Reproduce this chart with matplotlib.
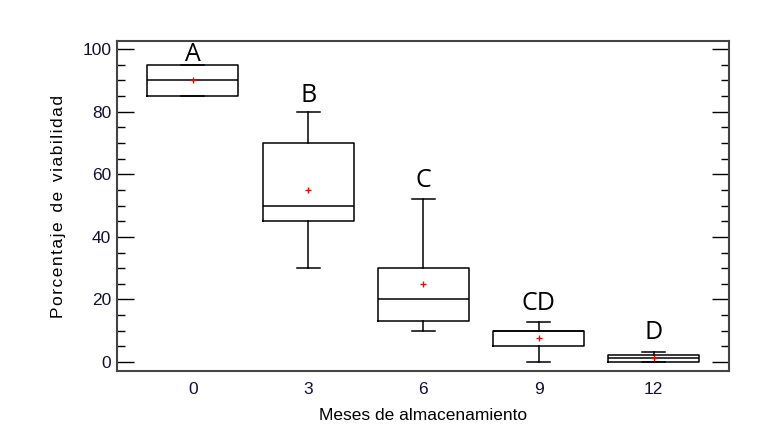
import matplotlib
matplotlib.use("Agg")
import matplotlib.pyplot as plt
from matplotlib.ticker import MultipleLocator

months = ["0", "3", "6", "9", "12"]
whislo = [85, 30, 10, 0, 0]
q1 = [85, 45, 13, 5, 0]
median = [90, 50, 20, 10, 1.2]
q3 = [95, 70, 30, 10, 2.2]
whishi = [95, 80, 52, 12.7, 3.1]
means = [90, 55, 25, 7.6, 1.3]
letters = ["A", "B", "C", "CD", "D"]
letter_y = [94.2, 81.2, 54, 14.7, 5.6]

fig = plt.figure(figsize=(7.59, 4.44), dpi=100)
ax = fig.add_axes([0.154, 0.164, 0.806, 0.744])

stats = []
for i in range(len(months)):
    stats.append(dict(whislo=whislo[i], q1=q1[i], med=median[i], q3=q3[i],
                      whishi=whishi[i], mean=means[i], fliers=[], label=months[i]))
pos = list(range(len(months)))
ax.bxp(stats, positions=pos, widths=0.79, showmeans=True, showfliers=False,
       boxprops=dict(color="black", linewidth=1.1),
       medianprops=dict(color="black", linewidth=1.1),
       whiskerprops=dict(color="black", linewidth=1.1),
       capprops=dict(color="black", linewidth=1.1),
       capwidths=0.2,
       meanprops=dict(marker="+", markeredgecolor="red", markersize=5, markeredgewidth=1))

for i, (l, y) in enumerate(zip(letters, letter_y)):
    ax.text(pos[i], y, l, ha="center", va="bottom", fontsize=18, family="Open Sans", color="black")

ax.set_xlim(-0.66, 4.65)
ax.set_ylim(-2.9, 102.6)
ax.yaxis.set_major_locator(MultipleLocator(20))
ax.yaxis.set_minor_locator(MultipleLocator(5))
ax.tick_params(axis="y", which="major", direction="in", length=12, width=1, right=True,
               labelsize=12.5, pad=4)
ax.tick_params(axis="y", which="minor", direction="in", length=6, width=1, right=True)
ax.tick_params(axis="x", length=0, labelsize=12.5, pad=8)
for lab in ax.get_xticklabels() + ax.get_yticklabels():
    lab.set_family("Liberation Sans")
    lab.set_color("#111133")
for s in ax.spines.values():
    s.set_color("#444444")
    s.set_linewidth(1.5)

ax.set_xlabel("Meses de almacenamiento", fontsize=12.5, family="Liberation Sans", labelpad=8)
ylab = "\u200a".join("Porcentaje") + "  " + "\u200a".join("de") + "  " + "\u200a".join("viabilidad")
ax.set_ylabel(ylab, fontsize=12.5, family="Liberation Sans", labelpad=12)

fig.savefig("out.png", dpi=100)
